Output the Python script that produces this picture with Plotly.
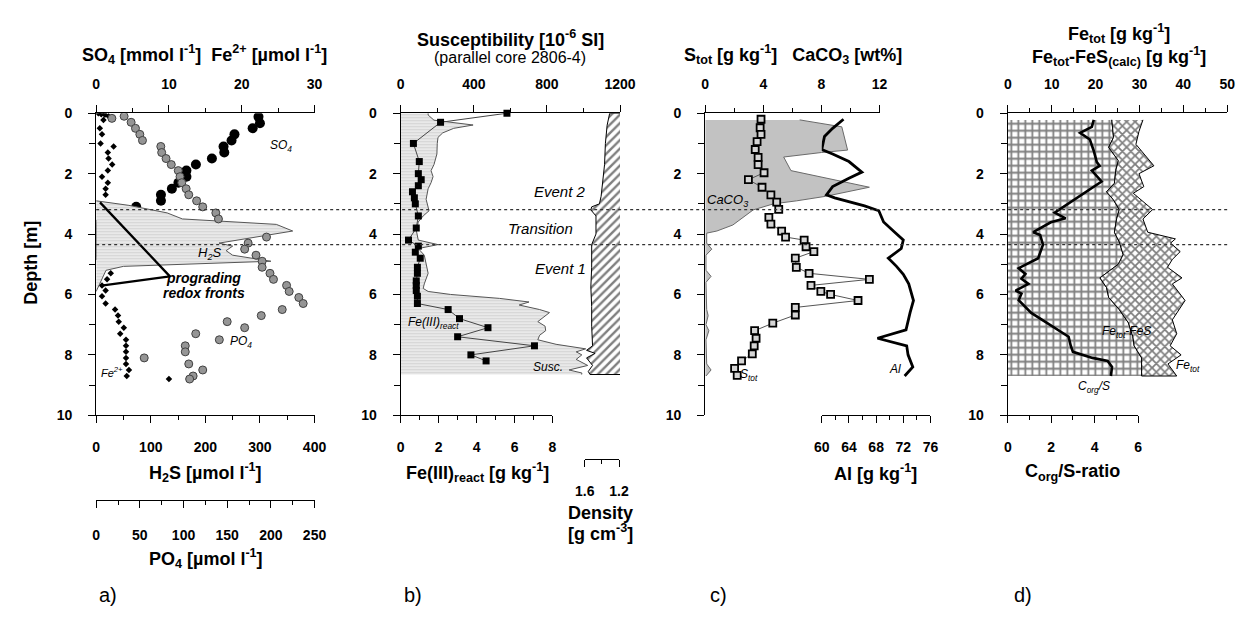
import plotly.graph_objects as go

W, H = 1251, 624
def px(x): return x / W
def py(y): return 1 - y / H

# ---------------- data ----------------
# panel a
so4_depth = [0.12, 0.33, 0.5, 0.7, 0.9, 1.1, 1.3, 1.5, 1.7, 1.9, 2.1, 2.3, 2.5, 2.7, 2.9, 3.1, 3.2, 3.35, 3.45,
             3.7, 3.8, 3.9, 4.0, 4.1, 4.2, 4.3, 4.4, 4.5, 4.6, 4.7]
so4_val = [22.3, 22.5, 21.5, 19.0, 18.6, 17.5, 17.6, 15.9, 13.7, 12.4, 12.4, 11.3, 10.4, 8.9, 8.9, 5.5, 5.5, 5.4, 3.6,
           0.1, 0.1, 0.1, 0.1, 0.1, 0.1, 0.1, 0.1, 0.1, 0.1, 0.1]
fe2_depth = [0.0, 0.03, 0.05, 0.1, 0.22, 0.5, 0.7, 1.0, 1.1, 1.3, 1.5, 1.7, 1.9, 2.1, 2.3, 2.5, 2.7,
             3.5, 3.7, 3.9, 4.1, 4.3, 4.5, 4.7, 4.9, 5.1, 5.3, 5.5, 5.7, 5.87, 6.06, 6.3, 6.5, 6.7, 6.9,
             7.1, 7.3, 7.5, 7.7, 7.9, 8.1, 8.3, 8.5, 8.7, 8.8]
fe2_val = [0.3, 0.7, 1.2, 1.7, 1.0, 0.5, 0.8, 0.6, 2.4, 1.6, 1.7, 2.2, 1.6, 0.8, 1.6, 1.3, 1.3,
           4.7, 2.3, 8.3, 1.7, 3.7, 2.7, 4.6, 4.0, 1.0, 2.0, 1.5, 0.8, 1.3, 0.8, 1.3, 2.6, 3.0, 3.1,
           3.8, 3.3, 4.1, 4.1, 4.1, 4.1, 4.1, 4.5, 4.2, 10.0]
po4_depth = [0.1, 0.17, 0.3, 0.5, 0.7, 0.9, 1.1, 1.3, 1.5, 1.7, 1.9, 2.1, 2.3, 2.5, 2.7, 2.9, 3.1, 3.3, 3.5,
             4.1, 4.3, 4.5, 4.7, 4.9, 5.1, 5.3, 5.5, 5.7, 5.9, 6.1, 6.3, 6.5, 6.7, 6.9, 7.1, 7.3, 7.5,
             7.7, 7.9, 8.1, 8.3, 8.5, 8.7, 8.8]
po4_val = [32, 18, 40, 45, 50, 53, 74, 75, 80, 86, 94, 96, 98, 103, 106, 115, 122, 137, 140,
           195, 174, 170, 183, 190, 190, 199, 203, 218, 221, 232, 237, 213, 189, 150, 170, 114, 141,
           102, 102, 55, 106, 122, 111, 107]
h2s_depth = [2.9, 3.05, 3.3, 3.5, 3.68, 3.9, 4.3, 4.4, 4.55, 4.7, 4.9, 5.07, 5.2, 5.5, 5.9]
h2s_val = [0, 60, 130, 158, 330, 360, 225, 250, 238, 250, 320, 50, 18, 10, 0]
front_depth = [2.95, 5.4, 5.7]
front_h2s = [7, 135, 13]

# panel b
sus_depth = [0.0, 0.06, 0.23, 0.33, 0.39, 0.5, 0.65, 0.8, 1.0, 1.35, 1.7, 1.9, 2.1, 2.3, 2.5, 2.85, 3.07,
             3.23, 3.4, 3.6, 3.9, 4.2, 4.35, 4.48, 4.7, 5.0, 5.3, 5.65, 5.8, 5.9, 6.0, 6.13, 6.25, 6.35,
             6.5, 6.6, 6.75, 6.9, 7.05, 7.2, 7.35, 7.5, 7.65, 7.75, 7.8, 7.9, 8.0, 8.15, 8.35, 8.5, 8.6, 8.65]
sus_val = [150, 150, 182, 310, 396, 290, 230, 204, 200, 198, 182, 166, 177, 166, 150, 139, 150,
           155, 123, 96, 86, 96, 204, 96, 129, 139, 150, 129, 123, 150, 273, 541, 702, 648,
           760, 814, 780, 750, 790, 793, 760, 750, 850, 950, 1012, 960, 991, 960, 1023, 921, 991, 990]
fe3_depth = [0.0, 0.3, 1.0, 1.6, 2.0, 2.2, 2.4, 2.6, 2.8, 3.0, 3.4, 3.8, 4.2, 4.4, 4.6, 4.8, 5.1, 5.3,
             5.55, 5.7, 5.87, 6.06, 6.3, 6.5, 6.8, 7.1, 7.4, 7.7, 8.0, 8.2]
fe3_val = [5.6, 2.1, 0.67, 0.98, 0.93, 1.08, 0.93, 0.62, 0.72, 0.77, 0.93, 0.82, 0.41, 0.93, 0.77, 1.03,
           0.88, 0.88, 0.82, 0.82, 0.82, 0.88, 0.88, 2.5, 3.1, 4.6, 3.0, 7.05, 3.7, 4.5]
dens_depth = [0.0, 0.4, 1.0, 1.7, 2.3, 2.75, 3.0, 3.1, 3.2, 3.4, 4.0, 4.35, 5.1, 5.75, 6.4, 7.05, 7.7,
              7.85, 7.95, 8.1, 8.35, 8.55, 8.65]
dens_val = [1.31, 1.34, 1.36, 1.37, 1.39, 1.41, 1.43, 1.52, 1.53, 1.47, 1.47, 1.52, 1.52, 1.53, 1.52,
            1.52, 1.51, 1.58, 1.48, 1.58, 1.51, 1.56, 1.54]

# panel c
caco3_depth = [0.22, 0.45, 1.22, 1.3, 1.45, 1.9, 2.45, 2.75, 2.9, 3.0, 3.2, 3.5, 3.7, 3.9, 3.97,
               4.3, 4.5, 4.7, 5.2, 5.4, 5.6, 6.5, 6.7, 7.0, 7.2, 7.5, 8.3, 8.5, 8.7]
caco3_val = [6.5, 9.4, 9.8, 8.0, 5.4, 5.9, 11.3, 8.3, 6.3, 4.7, 3.3, 2.5, 1.9, 0.8, 0.1,
             0.1, 0.45, 0.05, 0.05, 0.4, 0.05, 0.1, 0.2, 0.05, 0.25, 0.05, 0.1, 0.4, 0.05]
stot_depth = [0.2, 0.48, 0.7, 0.94, 1.2, 1.46, 1.7, 1.97, 2.2, 2.45, 2.7, 2.94, 3.18, 3.45, 3.67, 3.9,
              4.1, 4.2, 4.42, 4.58, 4.8, 5.1, 5.3, 5.5, 5.7, 5.9, 6.0, 6.2, 6.43, 6.68, 6.95, 7.2,
              7.45, 7.7, 7.97, 8.2, 8.45, 8.68]
stot_val = [3.84, 3.78, 3.84, 3.57, 3.44, 3.64, 3.64, 4.05, 2.97, 3.91, 4.52, 4.92, 5.06, 4.38, 4.52, 5.26,
            5.53, 6.81, 6.94, 7.48, 6.2, 6.27, 7.15, 11.3, 7.28, 7.96, 8.63, 10.52, 6.2, 6.2, 4.65, 3.4,
            3.5, 3.37, 3.24, 2.5, 2.02, 2.2]
al_depth = [0.2, 0.5, 0.77, 1.2, 1.35, 1.6, 1.95, 2.15, 2.43, 2.7, 2.8, 3.07, 3.23, 3.6, 3.93, 4.2, 4.48,
            4.8, 5.07, 5.33, 5.65, 6.2, 6.6, 7.17, 7.45, 7.7, 8.0, 8.4, 8.7]
al_val = [63.2, 61.6, 60.4, 60.0, 61.6, 64.0, 65.9, 64.0, 61.6, 60.7, 61.9, 66.3, 68.4, 69.1, 70.7, 72.0, 71.7,
          69.8, 71.0, 72.0, 72.8, 73.5, 73.0, 72.4, 68.2, 72.5, 72.7, 73.4, 72.2]

# panel d
fes_depth = [0.22, 0.8, 1.13, 1.57, 1.9, 2.32, 2.6, 2.87, 3.19, 3.5, 3.94, 4.26, 4.68, 5.0, 5.45, 5.77,
             6.1, 6.5, 6.94, 7.4, 7.7, 8.1, 8.7]
fes_val = [23.7, 24.1, 23.0, 25.2, 24.6, 24.3, 22.5, 24.1, 25.4, 24.8, 24.3, 25.4, 26.3, 25.2, 21.0, 22.5,
           23.0, 25.4, 27.5, 28.5, 28.8, 30.5, 30.5]
fetot_depth = [0.22, 0.6, 1.03, 1.74, 2.0, 2.43, 2.65, 3.19, 3.5, 3.94, 4.16, 4.3, 4.58, 4.84, 5.1, 5.45,
               5.65, 6.2, 6.84, 7.3, 7.7, 8.0, 8.3, 8.7]
fetot_val = [30.8, 29.9, 29.2, 33.3, 29.9, 31.0, 28.6, 33.0, 30.8, 31.9, 38.2, 37.1, 39.3, 37.5, 36.4, 39.7,
             37.5, 40.4, 37.5, 38.5, 37.0, 39.5, 36.5, 38.5]
corg_depth = [0.22, 0.45, 0.65, 0.87, 1.25, 1.62, 1.74, 1.9, 2.26, 2.65, 3.07, 3.29, 3.48, 3.61, 3.94, 4.03,
              4.35, 4.8, 5.13, 5.32, 5.48, 5.65, 5.87, 5.97, 6.19, 6.61, 6.9, 7.16, 7.4, 7.7, 7.9, 8.1,
              8.2, 8.4, 8.7]
corg_val = [3.96, 3.87, 3.33, 3.78, 3.96, 4.10, 4.23, 3.87, 4.32, 3.51, 2.61, 2.16, 2.66, 1.98, 1.17, 1.49,
            1.62, 1.40, 0.50, 0.81, 0.63, 0.95, 0.36, 0.63, 0.50, 1.08, 1.71, 2.30, 2.8, 2.9, 3.0, 3.9,
            4.6, 4.8, 4.75]

event_depths = [3.19, 4.35]

# ---------------- figure ----------------
FONT = "Liberation Sans, Arial, Helvetica, sans-serif"
TICKFONT = dict(family=FONT, size=14, color="black", weight="bold")
YDOM = [py(418), py(108)]

def btext(vals):
    return ["<b>%s</b>" % ("%g" % v) for v in vals]

def axis(tickvals=None, standoff=12, **kw):
    d = dict(showline=True, linecolor="black", linewidth=1.3, ticks="outside", ticklen=7,
             tickwidth=1.3, tickcolor="black", showgrid=False, zeroline=False,
             tickfont=TICKFONT, ticklabelposition="outside", ticklabelstandoff=standoff,
             fixedrange=True)
    if tickvals is not None:
        d["tickmode"] = "array"
        d["tickvals"] = tickvals
        d["ticktext"] = btext(tickvals)
    d.update(kw)
    return d

def yaxis(anchor):
    return axis(tickvals=[0, 2, 4, 6, 8, 10], standoff=13,
                domain=YDOM, range=[10, 0], anchor=anchor,
                minor=dict(tickvals=[1, 3, 5, 7, 9], ticks="outside", ticklen=6, tickwidth=1.3,
                           tickcolor="black"))

def minor(vals):
    return dict(tickvals=vals, ticks="outside", ticklen=4, tickwidth=1.3, tickcolor="black")

TOP = 10
BOT = 12

fig = go.Figure()

HFILL = dict(shape="-", fgcolor="#b8b8b8", bgcolor="#e9e9e9", size=3, solidity=0.3)

# panel a
fig.add_trace(go.Scatter(x=h2s_val, y=h2s_depth, xaxis="x2", yaxis="y", mode="lines",
                         fill="tozerox", fillpattern=HFILL, line=dict(color="#555", width=1)))
fig.add_trace(go.Scatter(x=front_h2s, y=front_depth, xaxis="x2", yaxis="y", mode="lines",
                         line=dict(color="black", width=2.3)))
fig.add_trace(go.Scatter(x=po4_val, y=po4_depth, xaxis="x3", yaxis="y", mode="markers",
                         marker=dict(symbol="circle", size=8, color="#959595",
                                     line=dict(color="#404040", width=1))))
fig.add_trace(go.Scatter(x=fe2_val, y=fe2_depth, xaxis="x", yaxis="y", mode="markers",
                         marker=dict(symbol="diamond", size=5, color="black")))
fig.add_trace(go.Scatter(x=so4_val, y=so4_depth, xaxis="x", yaxis="y", mode="markers",
                         marker=dict(symbol="circle", size=10, color="black")))

# panel b
fig.add_trace(go.Scatter(x=sus_val, y=sus_depth, xaxis="x4", yaxis="y2", mode="lines",
                         fill="tozerox", fillpattern=HFILL, line=dict(color="#555", width=1)))
dens_right = 1.189
fig.add_trace(go.Scatter(x=[dens_right] + dens_val + [dens_right],
                         y=[dens_depth[0]] + dens_depth + [dens_depth[-1]],
                         xaxis="x6", yaxis="y2", mode="lines", fill="toself",
                         fillcolor="white",
                         fillpattern=dict(shape="/", fgcolor="black", bgcolor="white", size=6, solidity=0.4),
                         line=dict(color="black", width=1)))
fig.add_trace(go.Scatter(x=fe3_val, y=fe3_depth, xaxis="x5", yaxis="y2", mode="lines+markers",
                         line=dict(color="#444", width=1), cliponaxis=False,
                         marker=dict(symbol="square", size=7, color="black")))
fig.add_trace(go.Scatter(x=[None], y=[None], xaxis="x7", yaxis="y2", mode="markers", showlegend=False))

# panel c
fig.add_trace(go.Scatter(x=caco3_val, y=caco3_depth, xaxis="x8", yaxis="y3", mode="lines",
                         fill="tozerox", fillcolor="#c2c2c2", line=dict(color="#6a6a6a", width=1)))
fig.add_trace(go.Scatter(x=al_val, y=al_depth, xaxis="x9", yaxis="y3", mode="lines",
                         line=dict(color="black", width=2.8), cliponaxis=False))
fig.add_trace(go.Scatter(x=stot_val, y=stot_depth, xaxis="x8", yaxis="y3", mode="lines+markers",
                         line=dict(color="#555", width=1),
                         marker=dict(symbol="square", size=7, color="#d5d5d5",
                                     line=dict(color="black", width=1.8))))

# panel d
fig.add_trace(go.Scatter(x=fes_val, y=fes_depth, xaxis="x10", yaxis="y4", mode="lines",
                         fill="tozerox", fillcolor="white",
                         fillpattern=dict(shape="+", fgcolor="black", bgcolor="white", size=7, solidity=0.45),
                         line=dict(color="black", width=1)))
fig.add_trace(go.Scatter(x=fes_val + fetot_val[::-1], y=fes_depth + fetot_depth[::-1],
                         xaxis="x10", yaxis="y4", mode="lines", fill="toself", fillcolor="white",
                         fillpattern=dict(shape="x", fgcolor="black", bgcolor="white", size=6, solidity=0.5),
                         line=dict(color="black", width=1)))
fig.add_trace(go.Scatter(x=corg_val, y=corg_depth, xaxis="x11", yaxis="y4", mode="lines",
                         line=dict(color="black", width=2.6), cliponaxis=False))

fig.update_layout(
    width=W, height=H, margin=dict(l=0, r=0, t=0, b=0), showlegend=False,
    paper_bgcolor="white", plot_bgcolor="rgba(0,0,0,0)",
    font=dict(family=FONT, color="black"),
    yaxis=yaxis("x"), yaxis2=yaxis("x4"), yaxis3=yaxis("x8"), yaxis4=yaxis("x10"),
    xaxis=axis(tickvals=[0, 10, 20, 30], standoff=TOP, domain=[px(88), px(311)], range=[0, 30],
               anchor="y", side="top", minor=minor([5, 15, 25])),
    xaxis2=axis(tickvals=[0, 100, 200, 300, 400], standoff=BOT, range=[0, 400], overlaying="x",
                anchor="y", side="bottom", minor=minor([50, 150, 250, 350])),
    xaxis3=axis(tickvals=[0, 50, 100, 150, 200, 250], standoff=15, range=[0, 250], overlaying="x",
                anchor="free", position=py(505), side="bottom", minor=minor([25, 75, 125, 175, 225])),
    xaxis4=axis(tickvals=[0, 400, 800, 1200], standoff=TOP, domain=[px(399), px(623)], range=[0, 1200],
                anchor="y2", side="top", minor=minor([200, 600, 1000])),
    xaxis5=axis(tickvals=[0, 2, 4, 6, 8], standoff=BOT, domain=[px(399), px(554)], range=[0, 8],
                anchor="y2", side="bottom", minor=minor([1, 3, 5, 7])),
    xaxis6=dict(overlaying="x4", anchor="y2", range=[3.749, dens_right], visible=False, fixedrange=True),
    xaxis7=axis(tickvals=[1.6, 1.2], standoff=BOT, domain=[px(587), px(622)], range=[1.6, 1.2],
                anchor="free", position=py(463), side="bottom", minor=minor([1.4])),
    xaxis8=axis(tickvals=[0, 4, 8, 12], standoff=TOP, domain=[px(710), px(888)], range=[0, 12],
                anchor="y3", side="top", minor=minor([2, 6, 10])),
    xaxis9=axis(tickvals=[60, 64, 68, 72, 76], standoff=BOT, domain=[px(829), px(940)], range=[60, 76],
                anchor="y3", side="bottom", minor=minor([62, 66, 70, 74])),
    xaxis10=axis(tickvals=[0, 10, 20, 30, 40, 50], standoff=TOP, domain=[px(1019), px(1243)],
                 range=[0, 50], anchor="y4", side="top", minor=minor([5, 15, 25, 35, 45])),
    xaxis11=axis(tickvals=[0, 2, 4, 6], standoff=BOT, domain=[px(1019), px(1152)], range=[0, 6],
                 anchor="y4", side="bottom", minor=minor([1, 3, 5])),
)

for d in event_depths:
    fig.add_shape(type="line", xref="paper", yref="y", x0=px(88), x1=px(1243), y0=d, y1=d,
                  line=dict(color="#333", width=1.3, dash="dot"))

def ann(x, y, text, size=14, angle=0, xanchor="center"):
    fig.add_annotation(x=px(x), y=py(y), xref="paper", yref="paper", text=text, showarrow=False,
                       font=dict(family=FONT, size=size, color="black"), textangle=angle,
                       xanchor=xanchor, yanchor="middle")

# titles
ann(199, 48, "<b>SO<sub>4</sub> [mmol l<sup>-1</sup>]&nbsp;&nbsp;Fe<sup>2+</sup> [µmol l<sup>-1</sup>]</b>", 18)
ann(511, 31, "<b>Susceptibility [10<sup>-6</sup> SI]</b>", 18)
ann(511, 51, "(parallel core 2806-4)", 16)
ann(800, 48, "<b>S<sub>tot</sub> [g kg<sup>-1</sup>]&nbsp;&nbsp;&nbsp;CaCO<sub>3</sub> [wt%]</b>", 18)
ann(1133, 26, "<b>Fe<sub>tot</sub> [g kg<sup>-1</sup>]</b>", 18)
ann(1133, 50, "<b>Fe<sub>tot</sub>-FeS<sub>(calc)</sub> [g kg<sup>-1</sup>]</b>", 18)
ann(22, 262, "<b>Depth [m]</b>", 18, angle=-90)
ann(200, 477, "<b>H<sub>2</sub>S [µmol l<sup>-1</sup>]</b>", 18)
ann(200, 565, "<b>PO<sub>4</sub> [µmol l<sup>-1</sup>]</b>", 18)
ann(477, 477, "<b>Fe(III)<sub>react</sub> [g kg<sup>-1</sup>]</b>", 18)
ann(603, 518, "<b>Density</b>", 18)
ann(603, 538, "<b>[g cm<sup>-3</sup>]</b>", 18)
ann(884, 477, "<b>Al [g kg<sup>-1</sup>]</b>", 18)
ann(1085, 477, "<b>C<sub>org</sub>/S-ratio</b>", 18)
# panel labels
ann(100, 602, "a)", 20)
ann(412, 602, "b)", 20)
ann(724, 602, "c)", 20)
ann(1034, 602, "d)", 20)
# in-plot labels
ann(277, 142, "<i>SO<sub>4</sub></i>", 12)
ann(204, 252, "<i>H<sub>2</sub>S</i>", 13)
ann(236, 343, "<i>PO<sub>4</sub></i>", 12)
ann(104, 374, "<i>Fe<sup>2+</sup></i>", 11)
ann(198, 277, "<b><i>prograding</i></b>", 14)
ann(198, 292, "<b><i>redox fronts</i></b>", 14)
ann(562, 188, "<i>Event 2</i>", 15)
ann(542, 226, "<i>Transition</i>", 15)
ann(562, 267, "<i>Event 1</i>", 15)
ann(432, 323, "<i>Fe(III)<sub>react</sub></i>", 12)
ann(549, 368, "<i>Susc.</i>", 12)
ann(733, 198, "<i>CaCO<sub>3</sub></i>", 13)
ann(755, 377, "<i>S<sub>tot</sub></i>", 12)
ann(904, 370, "<i>Al</i>", 12)
ann(1140, 333, "<i>Fe<sub>tot</sub>-FeS</i>", 12)
ann(1203, 367, "<i>Fe<sub>tot</sub></i>", 12)
ann(1107, 389, "<i>C<sub>org</sub>/S</i>", 12)

fig.write_html("out.html")
